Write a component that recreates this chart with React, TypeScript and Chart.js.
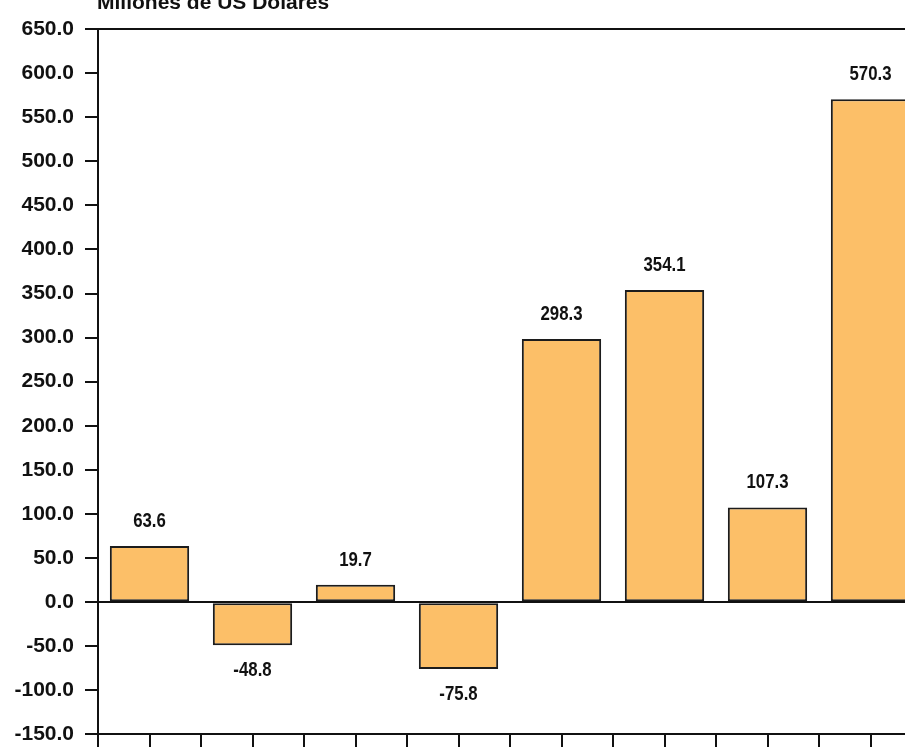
import React, { useEffect, useRef } from "react";
import { Chart, registerables } from "chart.js";

Chart.register(...registerables);

// Periods shown along the horizontal axis (their labels sit below the frame)
const categories = ["P1", "P2", "P3", "P4", "P5", "P6", "P7", "P8"];
// Values in millions of US dollars
const values = [63.6, -48.8, 19.7, -75.8, 298.3, 354.1, 107.3, 570.3];
// Vertical axis range and step
const yMin = -150;
const yMax = 650;
const yStep = 50;
const unitTitle = "Millones de US Dólares";

const BAR_FILL = "#FCBF68";
const INK = "#111111";

// Value labels in a condensed face: a bold sans squeezed horizontally
const valueLabels = {
  id: "valueLabels",
  afterDatasetsDraw(chart: any) {
    const ctx = chart.ctx;
    const meta = chart.getDatasetMeta(0);
    const squeeze = 0.8;
    ctx.save();
    ctx.font = "bold 21px 'Liberation Sans', Arial, sans-serif";
    ctx.fillStyle = INK;
    ctx.textAlign = "center";
    ctx.textBaseline = "middle";
    meta.data.forEach((bar: any, i: number) => {
      const v = values[i];
      const y = v >= 0 ? bar.y - 25 : bar.y + 25;
      ctx.save();
      ctx.translate(bar.x, y);
      ctx.scale(squeeze, 1);
      ctx.fillText(v.toFixed(1), 0, 0);
      ctx.restore();
    });
    ctx.restore();
  },
};

const unitHeading = {
  id: "unitHeading",
  afterDraw(chart: any) {
    const { ctx, chartArea } = chart;
    ctx.save();
    ctx.font = "bold 21px 'Liberation Sans', Arial, sans-serif";
    ctx.fillStyle = INK;
    ctx.textAlign = "left";
    ctx.textBaseline = "alphabetic";
    ctx.fillText(unitTitle, chartArea.left - 1, chartArea.top - 20);
    ctx.restore();
  },
};

export default function App() {
  const canvasRef = useRef<HTMLCanvasElement | null>(null);

  useEffect(() => {
    const canvas = canvasRef.current;
    if (!canvas) return;
    const chart = new Chart(canvas, {
      type: "bar",
      data: {
        labels: categories,
        datasets: [
          {
            data: values,
            backgroundColor: BAR_FILL,
            borderColor: "#1c1c1c",
            borderWidth: 2,
            borderSkipped: false,
            categoryPercentage: 1,
            barPercentage: 0.77,
            xAxisID: "x",
            yAxisID: "y",
          },
        ],
      },
      options: {
        responsive: false,
        animation: false,
        devicePixelRatio: 1,
        layout: { padding: { top: 29, right: 10, bottom: 0, left: 0 } },
        plugins: {
          legend: { display: false },
          tooltip: { enabled: false },
          title: { display: false },
        },
        scales: {
          x: {
            type: "category",
            display: false,
            offset: true,
          },
          xt: {
            type: "linear",
            position: "bottom",
            offset: false,
            min: -0.5,
            max: categories.length - 0.5,
            ticks: { stepSize: 0.5, display: false },
            grid: {
              offset: false,
              drawOnChartArea: false,
              drawTicks: true,
              tickLength: 15,
              tickColor: INK,
              lineWidth: 2,
              color: INK,
            },
            border: { display: true, color: INK, width: 2 },
            afterFit(scale: any) {
              scale.height = 20;
            },
          },
          y: {
            type: "linear",
            min: yMin,
            max: yMax,
            ticks: {
              stepSize: yStep,
              color: INK,
              padding: 11,
              font: { family: "'Liberation Sans', Arial, sans-serif", size: 21, weight: "bold" },
              callback: (v: any) => Number(v).toFixed(1),
            },
            grid: {
              drawOnChartArea: true,
              tickLength: 13,
              tickColor: INK,
              lineWidth: 2,
              color: (c: any) =>
                c.tick && (c.tick.value === 0 || c.tick.value === yMax) ? INK : "rgba(0,0,0,0)",
            },
            border: { display: true, color: INK, width: 2 },
            afterFit(scale: any) {
              scale.width = 98;
            },
          },
        },
      },
      plugins: [valueLabels, unitHeading],
    });
    return () => chart.destroy();
  }, []);

  return (
    <div
      style={{
        position: "fixed",
        left: 0,
        top: 0,
        width: 905,
        height: 747,
        overflow: "hidden",
        background: "#ffffff",
      }}
    >
      <canvas ref={canvasRef} width={932} height={758} style={{ display: "block" }} />
    </div>
  );
}
